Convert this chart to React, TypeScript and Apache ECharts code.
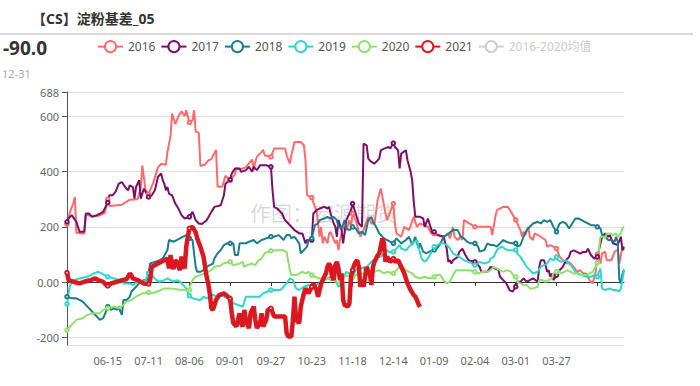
import React, { useEffect, useRef } from "react";
import * as echarts from "echarts";

// ---- categories: calendar days (leap-year span, includes 02-29) ----
const START_DATE = "2019-05-20";
const DAY_COUNT = 356;
function buildCategories(start: string, days: number): string[] {
  const out: string[] = [];
  const d = new Date(start + "T00:00:00Z");
  for (let i = 0; i < days; i++) {
    const mm = String(d.getUTCMonth() + 1).padStart(2, "0");
    const dd = String(d.getUTCDate()).padStart(2, "0");
    out.push(mm + "-" + dd);
    d.setUTCDate(d.getUTCDate() + 1);
  }
  return out;
}
const categories = buildCategories(START_DATE, DAY_COUNT);

const seriesNames = ["2016", "2017", "2018", "2019", "2020", "2021", "2016-2020均值"];
const latestValue = "-90.0";
const latestDate = "12-31";

// [dayIndex, basis]
const s2016 = [[0,210],[2,255],[4,285],[5,308],[6,178],[11,175],[12,245],[16,238],[20,240],[24,250],[26,300],[27,275],[35,280],[40,298],[45,300],[47,340],[48,422],[50,335],[52,318],[55,360],[58,415],[60,428],[63,425],[64,470],[66,530],[67,610],[69,572],[71,600],[73,618],[75,600],[76,622],[78,578],[80,585],[81,622],[82,545],[84,540],[85,420],[88,425],[90,440],[92,445],[95,478],[96,345],[99,345],[101,385],[104,368],[107,390],[108,412],[110,408],[114,415],[116,430],[118,443],[119,405],[120,435],[121,453],[124,471],[125,479],[126,459],[130,453],[132,483],[139,483],[140,459],[142,429],[143,459],[145,507],[149,507],[151,495],[152,441],[153,314],[156,306],[158,272],[159,260],[160,212],[161,164],[162,200],[163,140],[164,164],[166,140],[167,175],[168,182],[171,140],[172,152],[173,116],[174,152],[176,200],[178,188],[180,224],[181,200],[182,248],[184,224],[187,164],[189,188],[192,236],[194,212],[196,212],[198,297],[200,339],[201,310],[203,248],[204,224],[208,284],[209,212],[210,176],[213,164],[215,200],[218,188],[221,236],[223,200],[225,212],[230,200],[232,176],[234,175],[237,170],[240,164],[243,176],[244,158],[246,200],[247,164],[249,152],[251,164],[252,152],[253,224],[260,200],[270,200],[271,170],[273,236],[274,260],[278,272],[281,272],[283,254],[286,225],[287,212],[289,188],[290,164],[291,182],[292,170],[294,200],[295,164],[297,152],[298,176],[302,164],[305,152],[306,128],[308,134],[310,128],[312,121],[314,92],[317,73],[319,67],[320,73],[323,55],[325,37],[327,43],[329,31],[331,31],[333,7],[335,-5],[337,37],[338,100],[340,67],[341,104],[343,110],[344,79],[347,79],[349,110],[351,116],[352,67],[354,128],[355,116]];

const s2017 = [[0,218],[1,230],[3,242],[6,218],[8,182],[11,182],[12,248],[14,248],[16,236],[19,242],[21,248],[23,254],[26,288],[27,314],[29,314],[31,327],[33,356],[35,362],[37,344],[39,332],[40,350],[42,344],[43,302],[44,344],[46,369],[47,302],[49,338],[52,308],[54,314],[56,332],[58,381],[60,393],[61,369],[62,356],[63,332],[64,344],[65,320],[67,314],[69,284],[71,266],[73,242],[75,230],[78,236],[80,254],[82,224],[84,212],[86,210],[89,224],[92,254],[94,272],[98,278],[100,314],[101,356],[104,371],[105,393],[107,411],[110,411],[111,399],[114,405],[116,417],[118,399],[119,417],[121,405],[123,423],[127,423],[130,417],[131,332],[132,272],[134,266],[137,248],[139,224],[141,212],[143,200],[145,188],[148,176],[150,176],[152,140],[153,152],[156,152],[157,248],[159,260],[161,266],[164,272],[166,266],[167,272],[168,248],[170,212],[171,200],[172,164],[173,224],[175,188],[176,140],[178,224],[181,260],[182,284],[184,248],[186,212],[188,200],[189,501],[191,495],[192,447],[194,435],[196,429],[199,447],[200,477],[202,483],[205,489],[206,483],[208,503],[209,489],[211,477],[212,411],[213,465],[216,477],[217,441],[219,399],[220,369],[221,290],[222,236],[225,236],[227,230],[228,200],[230,230],[233,176],[234,182],[236,170],[240,164],[242,121],[243,73],[244,79],[245,67],[246,79],[249,91],[250,109],[252,121],[254,97],[256,79],[260,73],[261,67],[263,55],[264,37],[268,37],[270,55],[273,49],[275,43],[276,19],[278,7],[280,-5],[282,-29],[284,-35],[286,-17],[287,1],[289,1],[291,13],[293,1],[295,7],[297,13],[300,1],[301,55],[302,79],[304,79],[305,61],[306,37],[307,43],[308,19],[309,31],[310,7],[312,25],[313,37],[316,55],[318,79],[320,91],[321,109],[323,115],[325,109],[327,103],[329,109],[331,109],[332,121],[334,97],[336,85],[338,91],[339,115],[341,164],[343,176],[345,164],[346,170],[348,140],[351,134],[353,164],[354,115],[355,128]];

const s2018 = [[0,-53],[3,-59],[6,-59],[8,-65],[10,-71],[13,-89],[15,-101],[17,-113],[19,-125],[21,-137],[23,-131],[24,-119],[26,-89],[28,-101],[30,-95],[32,-101],[33,-89],[34,-107],[35,-119],[36,-65],[38,-65],[40,-53],[41,-35],[44,-17],[46,-5],[49,7],[51,7],[52,31],[53,67],[56,73],[59,79],[61,85],[64,116],[65,152],[68,146],[70,152],[72,158],[74,164],[76,170],[78,158],[80,152],[81,104],[82,55],[83,37],[85,37],[87,43],[89,55],[91,61],[93,67],[94,86],[96,104],[98,116],[100,134],[102,140],[104,140],[106,140],[107,98],[109,98],[110,140],[114,140],[116,146],[119,152],[121,140],[124,152],[127,158],[130,164],[132,164],[135,170],[138,152],[140,170],[142,170],[143,158],[145,164],[148,140],[149,104],[151,116],[153,128],[154,152],[156,158],[158,206],[160,212],[161,224],[164,230],[166,236],[168,230],[170,236],[172,224],[173,200],[175,194],[177,224],[178,194],[180,188],[182,200],[184,194],[186,176],[188,182],[190,170],[192,224],[194,236],[195,218],[197,200],[199,176],[202,158],[204,152],[206,146],[208,140],[210,158],[213,140],[216,152],[218,164],[220,134],[222,164],[224,122],[225,140],[227,110],[229,104],[231,110],[234,116],[236,122],[238,140],[240,164],[242,170],[246,188],[249,188],[251,164],[253,158],[255,146],[257,140],[260,140],[262,128],[263,110],[266,116],[268,140],[270,134],[272,134],[274,128],[276,140],[278,152],[280,146],[283,140],[286,140],[287,128],[289,134],[291,164],[293,188],[295,200],[297,212],[300,218],[302,212],[304,224],[306,218],[308,224],[310,200],[312,182],[313,200],[314,212],[316,218],[318,212],[320,194],[322,212],[324,230],[326,230],[328,224],[330,218],[332,212],[334,206],[336,206],[338,200],[340,194],[341,170],[343,164],[345,152],[347,152],[349,146],[350,164],[351,146],[352,10],[353,-5],[354,30],[355,45]];

const s2019 = [[0,-79],[1,-41],[2,-11],[4,7],[8,13],[13,19],[17,31],[20,37],[22,31],[24,25],[26,19],[30,13],[34,7],[36,-5],[40,-5],[42,-11],[45,1],[48,1],[50,7],[52,31],[53,37],[55,19],[57,7],[59,1],[62,7],[64,13],[66,7],[68,1],[70,7],[72,1],[74,-11],[76,-23],[78,-50],[80,-59],[83,-63],[85,-65],[87,-53],[89,-59],[91,-53],[93,-47],[96,-53],[98,-47],[100,-53],[104,-65],[106,-77],[109,-83],[112,-89],[114,-53],[119,-53],[123,-53],[125,-41],[130,-29],[133,-29],[136,-29],[138,-17],[140,-5],[142,13],[144,7],[146,-23],[148,-29],[151,-17],[154,-11],[156,-17],[158,-11],[161,-5],[164,7],[166,13],[168,19],[170,13],[171,7],[173,-17],[174,-11],[176,13],[178,37],[180,31],[182,19],[184,43],[186,55],[188,49],[189,55],[190,37],[191,55],[193,67],[195,79],[198,91],[200,91],[202,104],[204,115],[205,109],[208,109],[210,121],[212,134],[213,121],[216,115],[218,128],[220,140],[223,152],[224,128],[226,85],[228,73],[230,85],[232,104],[234,128],[236,134],[238,140],[240,140],[242,134],[244,122],[246,103],[248,97],[250,91],[253,79],[256,73],[260,61],[263,73],[266,67],[269,73],[270,85],[272,91],[274,115],[275,121],[277,128],[279,121],[281,115],[284,115],[286,116],[287,103],[289,91],[291,73],[293,55],[295,43],[297,31],[300,37],[302,55],[304,61],[306,67],[308,85],[310,79],[312,91],[313,79],[315,73],[318,79],[320,67],[322,55],[324,37],[326,31],[328,25],[331,19],[334,19],[336,25],[338,19],[339,37],[340,49],[341,-23],[343,-29],[346,-23],[348,-29],[350,-29],[352,-35],[353,-23],[354,7],[355,43]];

const s2020 = [[0,-174],[2,-161],[4,-149],[6,-137],[10,-131],[13,-119],[17,-113],[21,-113],[23,-101],[26,-95],[30,-89],[33,-95],[36,-83],[38,-71],[41,-65],[44,-53],[48,-41],[52,-38],[54,-41],[57,-35],[60,-29],[62,-23],[66,-23],[70,-26],[73,-29],[76,-29],[78,-29],[79,-5],[80,7],[82,19],[85,25],[88,31],[90,37],[92,43],[94,55],[98,60],[100,68],[104,73],[106,61],[110,67],[112,73],[113,55],[115,61],[118,67],[120,61],[122,79],[124,85],[126,104],[130,113],[134,115],[138,115],[140,109],[142,43],[143,25],[146,25],[150,37],[152,31],[154,37],[156,25],[158,19],[161,13],[166,13],[168,7],[170,7],[172,1],[173,-5],[175,7],[177,19],[180,25],[182,17],[184,25],[186,31],[191,31],[193,37],[196,37],[199,43],[202,31],[204,37],[208,31],[210,43],[212,55],[214,55],[216,43],[218,37],[220,31],[222,19],[225,13],[228,19],[231,13],[234,19],[236,25],[238,25],[240,7],[242,-5],[244,1],[246,25],[248,43],[252,43],[256,43],[260,37],[262,31],[265,37],[268,37],[270,43],[272,55],[274,49],[276,43],[278,37],[280,43],[283,37],[285,19],[286,19],[287,1],[289,-5],[291,-11],[293,-11],[295,-23],[297,-23],[300,-17],[301,7],[303,7],[305,1],[307,7],[309,13],[310,31],[312,37],[313,43],[315,31],[317,37],[319,43],[321,37],[323,31],[325,31],[327,25],[329,25],[331,25],[333,31],[335,37],[337,55],[338,70],[339,115],[340,164],[342,164],[343,158],[344,176],[346,176],[348,170],[350,176],[351,164],[353,176],[354,194],[355,200]];

const s2021 = [[0,34],[1,7],[4,1],[8,-5],[11,1],[15,7],[18,13],[20,7],[23,1],[25,-11],[26,-14],[28,-5],[32,1],[35,7],[38,10],[40,31],[41,25],[42,13],[45,7],[47,1],[49,-5],[52,-7],[53,7],[54,55],[56,61],[58,67],[60,73],[62,79],[64,85],[65,49],[66,98],[67,55],[68,49],[69,79],[70,73],[72,43],[73,92],[75,49],[76,128],[77,164],[78,194],[80,200],[82,180],[83,158],[85,128],[87,92],[88,55],[89,19],[90,-5],[91,-41],[92,-95],[93,-101],[95,-65],[97,-47],[100,-41],[102,-50],[104,-60],[105,-113],[106,-149],[108,-161],[109,-137],[110,-113],[111,-149],[112,-161],[113,-101],[114,-137],[116,-167],[117,-113],[119,-89],[120,-137],[121,-167],[123,-149],[124,-113],[125,-161],[127,-137],[128,-101],[130,-95],[132,-125],[139,-125],[140,-185],[141,-197],[143,-197],[144,-137],[145,-53],[146,-137],[148,-149],[149,-89],[151,-41],[152,-23],[154,-41],[156,-17],[157,-5],[159,-29],[160,-53],[161,-29],[162,-5],[164,19],[165,31],[166,55],[167,67],[168,55],[169,19],[170,7],[171,61],[172,73],[173,49],[174,7],[175,31],[176,-65],[177,-83],[179,-89],[180,-77],[181,19],[182,43],[183,61],[184,73],[185,79],[186,55],[187,-17],[188,7],[189,-17],[191,55],[192,37],[193,31],[194,-11],[195,55],[196,73],[198,97],[199,103],[201,158],[202,140],[203,73],[204,91],[206,73],[208,85],[209,73],[211,79],[213,55],[215,31],[217,-5],[219,-29],[221,-47],[222,-53],[223,-65],[224,-80],[225,-90]];

const sMean: number[][] = [];

const yMin = -228;
const yMax = 688;

const colors = ["#ff6b6b", "#7b0f68", "#1b7d8c", "#2fd6c9", "#8fe06e", "#d9181f", "#cccccc"];
const FONT = "'Noto Sans', 'Noto Sans CJK SC', sans-serif";

export default function App() {
  const ref = useRef<HTMLDivElement>(null);
  useEffect(() => {
    if (!ref.current) return;
    const chart = echarts.init(ref.current, undefined, { renderer: "svg" });
    const datasets = [s2016, s2017, s2018, s2019, s2020, s2021, sMean];
    const series = seriesNames.map((name, i) => ({
      name,
      type: "line",
      xAxisIndex: 0,
      yAxisIndex: 0,
      data: datasets[i],
      symbol: "emptyCircle",
      symbolSize: 3.5,
      showSymbol: true,
      color: colors[i],
      lineStyle: { width: name === "2021" ? 4.5 : 2, color: colors[i] },
      itemStyle: { color: colors[i] },
      emphasis: { disabled: true },
      z: name === "2021" ? 5 : 3,
    }));
    chart.setOption({
      animation: false,
      textStyle: { fontFamily: FONT },
      color: colors,
      legend: {
        data: seriesNames,
        left: 92,
        top: 35,
        itemWidth: 25,
        itemHeight: 14,
        itemGap: 5,
        textStyle: { color: "#555", fontSize: 12, fontFamily: FONT },
        inactiveColor: "#ccc",
        selected: { "2016-2020均值": false },
      },
      grid: { left: 67, right: 76, top: 92, bottom: 41, containLabel: false },
      xAxis: [
        {
          type: "category",
          data: categories,
          boundaryGap: false,
          position: "bottom",
          axisLine: { show: false, onZero: false },
          axisTick: { show: false },
          axisLabel: {
            interval: 25,
            color: "#666",
            fontSize: 11,
            margin: 10,
            formatter: (v: string, idx: number) => (idx === 0 || idx === 338 ? "" : v),
          },
          splitLine: { show: false },
        },
        {
          type: "category",
          data: categories,
          boundaryGap: false,
          position: "bottom",
          axisLine: { show: true, onZero: true, lineStyle: { color: "#333", width: 1 } },
          axisTick: { show: true, interval: 25, length: 4, lineStyle: { color: "#333" } },
          axisLabel: { show: false, interval: 25 },
          splitLine: { show: false },
        },
      ],
      yAxis: {
        type: "value",
        min: yMin,
        max: yMax,
        axisLine: { show: true, lineStyle: { color: "#555" } },
        axisTick: { show: true, length: 5, lineStyle: { color: "#555" } },
        axisLabel: {
          color: "#666",
          fontSize: 11,
          showMinLabel: false,
          showMaxLabel: true,
          formatter: (v: number) => (v === 0 ? "0.00" : String(v)),
        },
        splitLine: { show: true, lineStyle: { color: "#dcdcdc", width: 1 } },
      },
      graphic: [
        {
          type: "text",
          x: 32,
          y: 18,
          style: { text: "【CS】淀粉基差_05", fontSize: 14, fontWeight: "bold", fill: "#333", fontFamily: FONT, align: "left", verticalAlign: "middle" },
        },
        {
          type: "line",
          shape: { x1: 0, y1: 34, x2: 693, y2: 34 },
          style: { stroke: "#cccccc", lineWidth: 1.5 },
        },
        {
          type: "text",
          x: 3,
          y: 48,
          style: { text: latestValue, fontSize: 19, fontWeight: "bold", fill: "#333", fontFamily: FONT, align: "left", verticalAlign: "middle" },
        },
        {
          type: "text",
          x: 2,
          y: 73,
          style: { text: latestDate, fontSize: 11, fill: "#aaa", fontFamily: FONT, align: "left", verticalAlign: "middle" },
        },
        {
          type: "text",
          x: 250,
          y: 213,
          z: -1,
          style: { text: "作图：宏源期货", fontSize: 21, fill: "rgba(0,0,0,0.16)", fontFamily: FONT, align: "left", verticalAlign: "middle" },
        },
      ],
      series,
    });
    return () => chart.dispose();
  }, []);
  return <div ref={ref} style={{ position: "absolute", left: 0, top: 0, width: 700, height: 386 }} />;
}
